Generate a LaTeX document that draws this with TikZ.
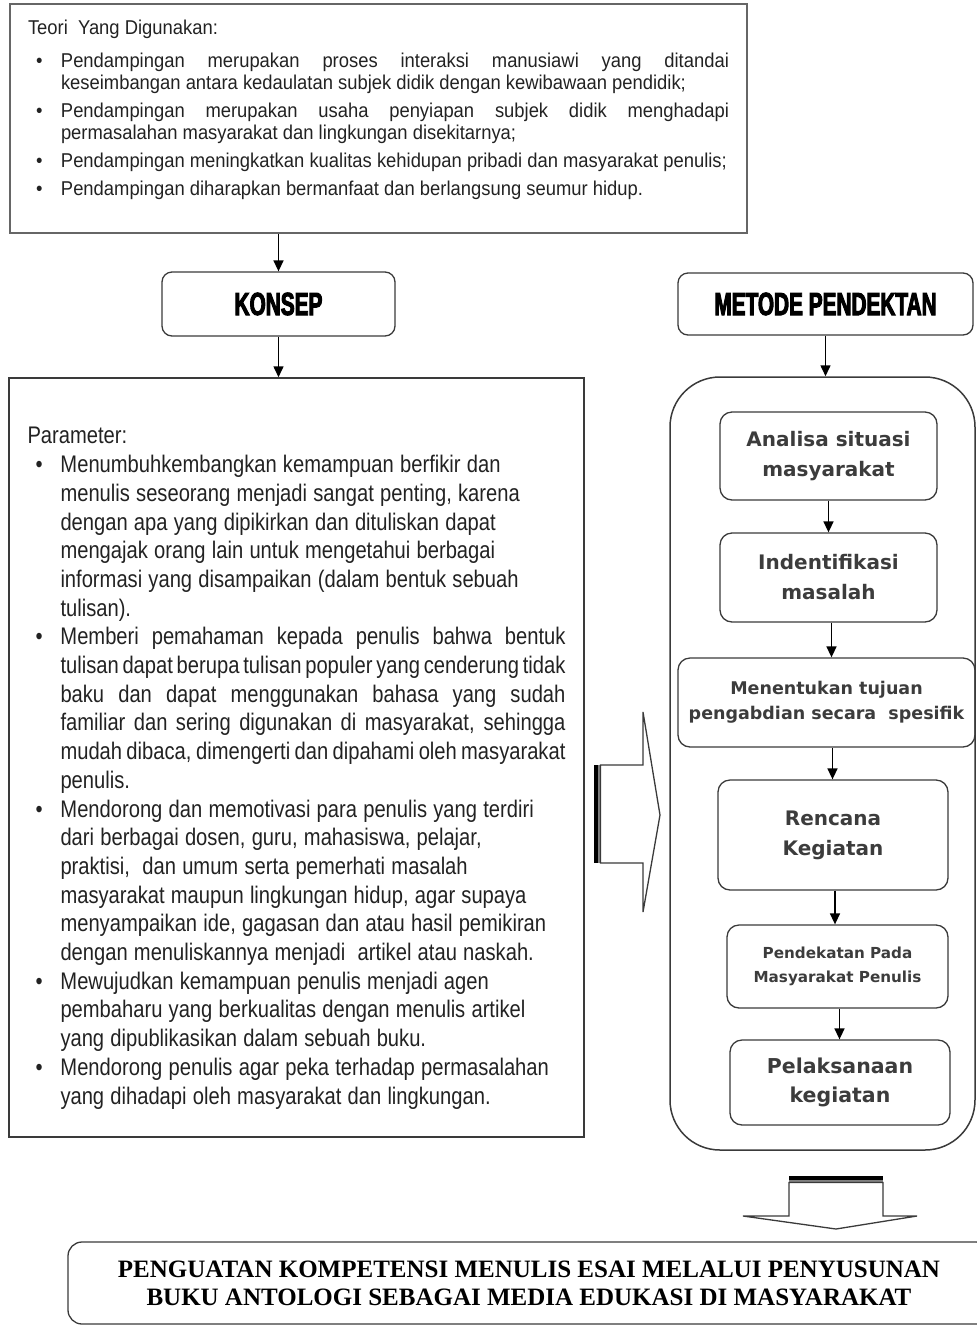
\documentclass[tikz,border=0pt]{standalone}
\usepackage{fontspec}
\usepackage{tikz}
\usetikzlibrary{arrows.meta,positioning,calc}
\setmainfont{Liberation Sans}
\newfontfamily\narrowfont[FakeStretch=0.84]{Liberation Sans}
\newfontfamily\topfont[FakeStretch=0.92]{Liberation Sans}
\newfontfamily\stepfont{DejaVu Sans}
\newfontfamily\headfont[FakeStretch=0.65,FakeBold=3]{Liberation Sans}
\newfontfamily\titlefont{Liberation Serif}
\definecolor{inkgray}{HTML}{222222}
\definecolor{linegray}{HTML}{3A3A3A}
\definecolor{stepink}{HTML}{3C3C3C}
\newcommand{\bitem}[1]{\par\hangindent=33pt\hangafter=1\noindent\makebox[33pt][l]{\hspace{8pt}\textbullet}#1\par}

\begin{document}
\begin{tikzpicture}[x=1pt, y=-1pt,
infobox/.style={draw=linegray, line width=1.5pt, align=justify, text=inkgray, inner xsep=18pt},
headbox/.style={draw=linegray, line width=1.3pt, rounded corners=10pt, font=\headfont\bfseries\fontsize{32}{36}\selectfont},
stepbox/.style={draw=linegray, line width=1.3pt, rounded corners=12pt, align=center, text=stepink, font=\stepfont\bfseries\fontsize{20}{30}\selectfont},
arrow/.style={-{Triangle[length=11pt,width=10pt]}, line width=1.5pt},
bigarrow/.style={draw=linegray, line width=1.3pt, fill=white}
]
\useasboundingbox (0,0) rectangle (977,1326);

% left column
\node[infobox, draw=gray!80!black, line width=2pt, minimum width=737pt, minimum height=229pt, text width=701pt,
  font=\topfont\fontsize{20}{22}\selectfont] (teori) at (378.5,118.5) {\tolerance=9999\hbadness=10000\parskip=6pt
Teori~ Yang Digunakan:\par\vspace{5pt}
\bitem{Pendampingan merupakan proses interaksi manusiawi yang ditandai\linebreak keseimbangan antara kedaulatan subjek didik dengan kewibawaan pendidik;}
\bitem{Pendampingan merupakan usaha penyiapan subjek didik menghadapi\linebreak permasalahan masyarakat dan lingkungan disekitarnya;}
\bitem{Pendampingan meningkatkan kualitas kehidupan pribadi dan masyarakat penulis;}
\bitem{Pendampingan diharapkan bermanfaat dan berlangsung seumur hidup.}
\null};
\node[headbox, minimum width=233pt, minimum height=64pt] (konsep) at (278.5,304) {KONSEP};
\node[infobox, minimum width=575pt, minimum height=759pt, text width=538pt,
  font=\narrowfont\fontsize{24}{28.7}\selectfont] (param) at (296.5,757.5) {\tolerance=10000\hbadness=10000
\spaceskip=0.26em plus 0.3em minus 0.17em
\rule{0pt}{38pt}Parameter:
\bitem{Menumbuhkembangkan kemampuan berfikir dan\newline menulis seseorang menjadi sangat penting, karena\newline dengan apa yang dipikirkan dan dituliskan dapat\newline mengajak orang lain untuk mengetahui berbagai\newline informasi yang disampaikan (dalam bentuk sebuah\newline tulisan).}
\bitem{Memberi pemahaman kepada penulis bahwa bentuk\linebreak tulisan dapat berupa tulisan populer yang cenderung tidak\linebreak baku dan dapat menggunakan bahasa yang sudah\linebreak familiar dan sering digunakan di masyarakat, sehingga\linebreak mudah dibaca, dimengerti dan dipahami oleh masyarakat\linebreak penulis.}
\bitem{Mendorong dan memotivasi para penulis yang terdiri\newline dari berbagai dosen, guru, mahasiswa, pelajar,\newline praktisi,~ dan umum serta pemerhati masalah\newline masyarakat maupun lingkungan hidup, agar supaya\newline menyampaikan ide, gagasan dan atau hasil pemikiran\newline dengan menuliskannya menjadi~ artikel atau naskah.}
\bitem{Mewujudkan kemampuan penulis menjadi agen\newline pembaharu yang berkualitas dengan menulis artikel\newline yang dipublikasikan dalam sebuah buku.}
\bitem{Mendorong penulis agar peka terhadap permasalahan\newline yang dihadapi oleh masyarakat dan lingkungan.}};

% right column
\node[headbox, minimum width=295pt, minimum height=62pt] (metode) at (825.5,304) {METODE PENDEKTAN};
\node[draw=linegray, line width=1.5pt, rounded corners=50pt, minimum width=305pt, minimum height=773pt] (panel) at (822.5,763.5) {};
\node[stepbox, minimum width=217pt, minimum height=88pt] (analisa) at (828.5,456) {Analisa situasi\\masyarakat};
\node[stepbox, minimum width=217pt, minimum height=89pt] (masalah) at (828.5,577.5) {Indentifikasi\\masalah};
\node[stepbox, minimum width=297pt, minimum height=89pt, font=\stepfont\bfseries\fontsize{17.5}{25}\selectfont] (tujuan) at (826.5,702.5) {Menentukan tujuan\\pengabdian secara~ spesifik};
\node[stepbox, minimum width=230pt, minimum height=110pt] (rencana) at (833,835) {Rencana\\Kegiatan};
\node[stepbox, minimum width=221pt, minimum height=83pt, font=\stepfont\bfseries\fontsize{15.2}{24}\selectfont] (pendekatan) at (837.5,966.5) {Pendekatan Pada\\Masyarakat Penulis};
\node[stepbox, minimum width=220pt, minimum height=85pt, font=\stepfont\bfseries\fontsize{20.5}{29}\selectfont] (pelaksanaan) at (840,1082.5) {Pelaksanaan\\kegiatan};

% result
\node[draw=linegray, line width=1.3pt, rounded corners=14pt, minimum width=922pt, minimum height=82pt, align=center,
  font=\titlefont\bfseries\fontsize{25}{28}\selectfont] (hasil) at (529,1283) {PENGUATAN KOMPETENSI MENULIS ESAI MELALUI PENYUSUNAN\\BUKU ANTOLOGI SEBAGAI MEDIA EDUKASI DI MASYARAKAT};

\draw[arrow] (konsep.north |- teori.south) -- (konsep.north);
\draw[arrow] (konsep.south) -- (konsep.south |- param.north);
\draw[arrow] (metode.south) -- (metode.south |- panel.north);
\draw[arrow] (analisa.south) -- (analisa.south |- masalah.north);
\draw[arrow] ([xshift=3pt]masalah.south) -- ([xshift=3pt]masalah.south |- tujuan.north);
\draw[arrow] ([xshift=6pt]tujuan.south) -- ([xshift=6pt]tujuan.south |- rencana.north);
\draw[arrow] ([xshift=2pt]rencana.south) -- ([xshift=2pt]rencana.south |- pendekatan.north);
\draw[arrow] ([xshift=2pt]pendekatan.south) -- ([xshift=2pt]pendekatan.south |- pelaksanaan.north);

% block arrows
\fill[black] (594,765) rectangle (597.5,863);
\fill[gray] (597.5,765) rectangle (600,863);
\draw[bigarrow] (600.5,765) -- (643,765) -- (643,712) -- (660,815) -- (643,912) -- (643,863) -- (600.5,863) -- cycle;
\fill[black] (789,1176) rectangle (883,1179.5);
\fill[gray] (789,1179.5) rectangle (883,1182);
\draw[bigarrow] (789,1182.5) -- (883,1182.5) -- (883,1216) -- (917,1216) -- (836,1229) -- (743,1216) -- (789,1216) -- cycle;
\end{tikzpicture}
\end{document}
